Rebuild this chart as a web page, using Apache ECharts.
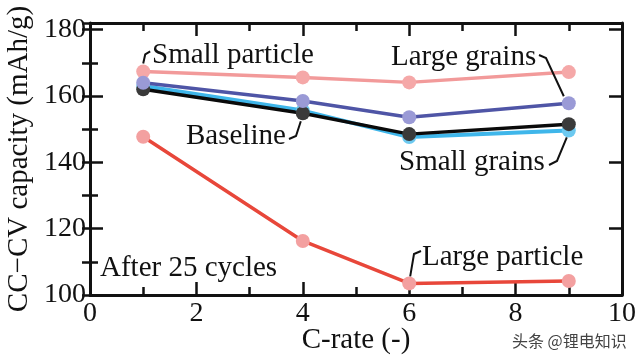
<!DOCTYPE html>
<html><head><meta charset="utf-8">
<script src="https://cdn.jsdelivr.net/npm/echarts@6/dist/echarts.min.js"></script>
<style>html,body{margin:0;padding:0;background:#fff}#c{width:640px;height:359px}</style>
</head><body><div id="c"></div>
<script>
// ---- data ----
const cRate = [1, 4, 6, 9];
const smallParticle = [167.4, 165.6, 164.1, 167.2];
const largeGrains = [164.0, 158.5, 153.6, 157.8];
const baseline = [162.0, 154.8, 148.5, 151.5];
const smallGrains = [163.0, 155.6, 147.6, 149.6];
const largeParticle = [147.7, 116.3, 103.5, 104.2];
const xMin = 0, xMax = 10, xMajor = 2, xMinor = 1;
const yMin = 100, yMax = 182, yMajor = 20, yMinor = 10;
const xTitle = 'C-rate (-)';
const yTitle = 'CC\u2212CV capacity (mAh/g)';

const FONT = 'Liberation Serif, Tinos, Times New Roman, DejaVu Serif, serif';
const chart = echarts.init(document.getElementById('c'), null, {renderer: 'canvas'});

function mkX(pos, interval, len, opts) {
  return Object.assign({
    type: 'value', position: pos, min: xMin, max: xMax, interval: interval,
    axisLine: {show: false}, splitLine: {show: false},
    axisTick: {show: true, inside: true, length: len, lineStyle: {color: '#111', width: 2.5}},
    axisLabel: {show: false}
  }, opts || {});
}
function mkY(pos, interval, len, opts) {
  return Object.assign({
    type: 'value', position: pos, min: yMin, max: yMax, interval: interval,
    axisLine: {show: false}, splitLine: {show: false},
    axisTick: {show: true, inside: true, length: len, lineStyle: {color: '#111', width: 2.5}},
    axisLabel: {show: false}
  }, opts || {});
}
const axisLine = {show: true, onZero: false, lineStyle: {color: '#111', width: 3}};

function series(name, vals, lineColor, markColor, extra) {
  return Object.assign({
    name: name, type: 'line', xAxisIndex: 0, yAxisIndex: 0,
    data: cRate.map((x, i) => [x, vals[i]]),
    symbol: 'circle', symbolSize: 14,
    lineStyle: {color: lineColor, width: 3.5},
    itemStyle: {color: markColor, borderWidth: 0},
    emphasis: {disabled: true}
  }, extra || {});
}

const option = {
  animation: false,
  backgroundColor: '#fff',
  grid: {left: 90, right: 18, top: 23, bottom: 64, containLabel: false, outerBoundsMode: 'none'},
  xAxis: [
    mkX('bottom', xMajor, 13, {
      axisLine: axisLine,
      axisLabel: {show: true, margin: 5, fontFamily: FONT, fontSize: 28, color: '#111'},
      name: xTitle, nameLocation: 'middle', nameGap: 31, nameMoveOverlap: false,
      nameTextStyle: {fontFamily: FONT, fontSize: 29, color: '#111'}
    }),
    mkX('bottom', xMinor, 8),
    mkX('top', xMajor, 13, {axisLine: axisLine}),
    mkX('top', xMinor, 8)
  ],
  yAxis: [
    mkY('left', yMajor, 13, {
      axisLine: axisLine,
      axisLabel: {show: true, margin: 4, fontFamily: FONT, fontSize: 28, color: '#111',
        formatter: v => (v % yMajor === 0 ? String(v) : '')},
      name: yTitle, nameLocation: 'middle', nameGap: 56, nameMoveOverlap: false,
      nameTextStyle: {fontFamily: FONT, fontSize: 29, color: '#111'}
    }),
    mkY('left', yMinor, 8),
    mkY('right', yMajor, 13, {axisLine: axisLine}),
    mkY('right', yMinor, 8)
  ],
  series: [
    series('Small grains', smallGrains, '#3fb6ea', '#6cc9f0', {lineStyle: {color: '#3fb6ea', width: 4}}),
    series('Baseline', baseline, '#0a0a0a', '#3a3a3a'),
    series('Large particle', largeParticle, '#e8473a', '#f3a0a0'),
    series('Small particle', smallParticle, '#f29a9a', '#f5a8a8'),
    series('Large grains', largeGrains, '#4f55a6', '#9a9ad6')
  ]
};
chart.setOption(option);

const P = (x, y) => chart.convertToPixel({xAxisIndex: 0, yAxisIndex: 0}, [x, y]);
function txt(t, x, y, align) {
  return {type: 'text', z: 50, style: {text: t, x: x, y: y, fontSize: 29, fontFamily: FONT, fill: '#111',
    align: align || 'left', verticalAlign: 'middle'}};
}
function lead(points) {
  return {type: 'polyline', z: 49, shape: {points: points},
    style: {stroke: '#111', lineWidth: 2, fill: null}};
}
const a = P(cRate[0], smallParticle[0]);
const b = P(cRate[3], largeGrains[3]);
const c = P(cRate[1], baseline[1]);
const d = P(cRate[3], smallGrains[3]);
const e = P(cRate[2], largeParticle[2]);

chart.setOption({
  graphic: [
    txt('Small particle', 152, 55),
    lead([[a[0], a[1] - 8], [a[0] + 2, a[1] - 17], [a[0] + 7, a[1] - 20]]),
    txt('Large grains', 391, 57),
    lead([[539, 55], [546, 58], [b[0] - 5, b[1] - 7]]),
    txt('Baseline', 186, 136),
    lead([[289, 139], [296, 136], [c[0] - 2, c[1] + 8]]),
    txt('Small grains', 399, 162),
    lead([[549, 165], [557, 161], [d[0] - 2, d[1] + 7]]),
    txt('Large particle', 422, 257),
    lead([[421, 251], [414, 254], [e[0] + 1, e[1] - 7]]),
    txt('After 25 cycles', 100, 268),
    {type: 'text', z: 60, style: {text: '头条 @锂电知识', x: 512, y: 341,
      fontSize: 16, fontFamily: 'Noto Sans CJK SC, sans-serif', fill: '#444', verticalAlign: 'middle'}}
  ]
});
</script></body></html>
